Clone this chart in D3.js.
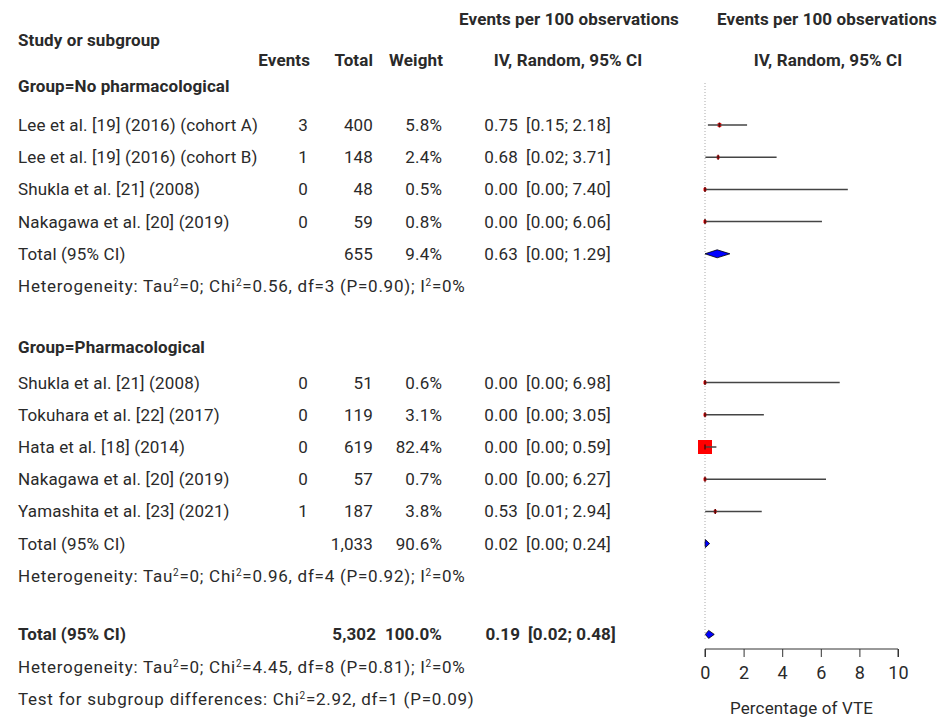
<!DOCTYPE html>
<html lang="en">
<head>
<meta charset="UTF-8">
<title>Forest plot - VTE</title>
<script src="https://d3js.org/d3.v7.min.js"></script>
<style>
  body { margin: 0; background: #fff; }
  svg text { font-family: Roboto, "Noto Sans", sans-serif; font-size: 17px; letter-spacing: 0.15px; fill: #2a2a2a; }
  .bold { font-weight: bold; letter-spacing: 0.1px; }
  .het { letter-spacing: 0.75px; }
</style>
</head>
<body>
<svg width="941" height="718"></svg>
<script>
// study rows
const studies = [
  "Lee et al. [19] (2016) (cohort A)", "Lee et al. [19] (2016) (cohort B)",
  "Shukla et al. [21] (2008)", "Nakagawa et al. [20] (2019)",
  "Shukla et al. [21] (2008)", "Tokuhara et al. [22] (2017)", "Hata et al. [18] (2014)",
  "Nakagawa et al. [20] (2019)", "Yamashita et al. [23] (2021)"
];
const studyRow = [0, 1, 2, 3, 8, 9, 10, 11, 12];
const events = [3, 1, 0, 0, 0, 0, 0, 0, 1];
const totals = [400, 148, 48, 59, 51, 119, 619, 57, 187];
const weights = [5.8, 2.4, 0.5, 0.8, 0.6, 3.1, 82.4, 0.7, 3.8];
const est = [0.75, 0.68, 0.00, 0.00, 0.00, 0.00, 0.00, 0.00, 0.53];
const lower = [0.15, 0.02, 0.00, 0.00, 0.00, 0.00, 0.00, 0.00, 0.01];
const upper = [2.18, 3.71, 7.40, 6.06, 6.98, 3.05, 0.59, 6.27, 2.94];

// subgroup headers
const groupLabels = ["Group=No pharmacological", "Group=Pharmacological"];
const groupRow = [-1.2, 6.9];

// pooled rows (two subgroups + overall)
const pooledRow = [4, 13, 15.82];
const pooledTotal = ["655", "1,033", "5,302"];
const pooledWeight = ["9.4%", "90.6%", "100.0%"];
const pooledEst = [0.63, 0.02, 0.19];
const pooledLower = [0.00, 0.00, 0.02];
const pooledUpper = [1.29, 0.24, 0.48];

// heterogeneity / test lines: [text, superscript] parts
const hetRow = [5, 14, 16.82, 17.82];
const hetText = [
  [["Heterogeneity: Tau", ""], ["2", "sup"], ["=0; Chi", ""], ["2", "sup"], ["=0.56, df=3 (P=0.90); I", ""], ["2", "sup"], ["=0%", ""]],
  [["Heterogeneity: Tau", ""], ["2", "sup"], ["=0; Chi", ""], ["2", "sup"], ["=0.96, df=4 (P=0.92); I", ""], ["2", "sup"], ["=0%", ""]],
  [["Heterogeneity: Tau", ""], ["2", "sup"], ["=0; Chi", ""], ["2", "sup"], ["=4.45, df=8 (P=0.81); I", ""], ["2", "sup"], ["=0%", ""]],
  [["Test for subgroup differences: Chi", ""], ["2", "sup"], ["=2.92, df=1 (P=0.09)", ""]]
];

const xTicks = [0, 2, 4, 6, 8, 10];

const svg = d3.select("svg");
const f2 = d3.format(".2f");

const y = d3.scaleLinear().domain([0, 1]).range([125, 157.2]);
const x = d3.scaleLinear().domain([0, 10]).range([705, 898]);
const sq = d3.scaleSqrt().domain([0, 82.4]).range([0, 14]);

const col = { label: 18, events: 308, total: 373, weight: 442, est: 518, ci: 526 };

function txt(xp, yp, s, anchor, cls) {
  return svg.append("text")
    .attr("x", xp).attr("y", yp).attr("dy", "0.35em")
    .attr("text-anchor", anchor || "start")
    .attr("class", cls || null)
    .text(s);
}

// headers
txt(col.label, 40, "Study or subgroup", "start", "bold");
txt(col.events + 2, 60, "Events", "end", "bold");
txt(col.total, 60, "Total", "end", "bold");
txt(col.weight + 1, 60, "Weight", "end", "bold");
txt(569, 19, "Events per 100 observations", "middle", "bold");
txt(568, 60, "IV, Random, 95% CI", "middle", "bold");
txt(827, 19, "Events per 100 observations", "middle", "bold");
txt(828, 60, "IV, Random, 95% CI", "middle", "bold");

groupLabels.forEach((g, i) => txt(col.label, y(groupRow[i]), g, "start", "bold"));

// reference line at 0
svg.append("line")
  .attr("x1", x(0)).attr("x2", x(0))
  .attr("y1", 83).attr("y2", y(15.82) + 6)
  .attr("stroke", "#aaa").attr("stroke-width", 1)
  .attr("stroke-dasharray", "1,2");

// study rows
studies.forEach((s, i) => {
  const yy = y(studyRow[i]);
  txt(col.label, yy, s);
  txt(col.events, yy, events[i], "end");
  txt(col.total, yy, totals[i], "end");
  txt(col.weight, yy, weights[i].toFixed(1) + "%", "end");
  txt(col.est, yy, f2(est[i]), "end");
  txt(col.ci, yy, "[" + f2(lower[i]) + "; " + f2(upper[i]) + "]");

  const side = Math.max(sq(weights[i]), 3);
  svg.append("rect")
    .attr("x", x(est[i]) - side / 2).attr("y", yy - side / 2)
    .attr("width", side).attr("height", side)
    .attr("fill", "red");
  svg.append("line")
    .attr("x1", x(lower[i])).attr("x2", x(upper[i]))
    .attr("y1", yy).attr("y2", yy)
    .attr("stroke", "#444").attr("stroke-width", 1.5);
  svg.append("line")
    .attr("x1", x(est[i])).attr("x2", x(est[i]))
    .attr("y1", yy - 2.5).attr("y2", yy + 2.5)
    .attr("stroke", "#600").attr("stroke-width", 1.5);
});

// pooled rows
pooledRow.forEach((r, i) => {
  const yy = y(r);
  const cls = i === 2 ? "bold" : null;
  txt(col.label, yy, "Total (95% CI)", "start", cls);
  txt(col.total + 3 * (i === 2), yy, pooledTotal[i], "end", cls);
  txt(col.weight, yy, pooledWeight[i], "end", cls);
  txt(col.est + 2 * (i === 2), yy, f2(pooledEst[i]), "end", cls);
  txt(col.ci + 2 * (i === 2), yy, "[" + f2(pooledLower[i]) + "; " + f2(pooledUpper[i]) + "]", "start", cls);
  const h = 4;
  const pts = [[x(pooledLower[i]), yy], [x(pooledEst[i]), yy - h], [x(pooledUpper[i]), yy], [x(pooledEst[i]), yy + h]];
  svg.append("path")
    .attr("d", d3.line()(pts) + "Z")
    .attr("fill", "blue").attr("stroke", "#000").attr("stroke-width", 0.8);
});

// heterogeneity lines
hetRow.forEach((r, i) => {
  const t = svg.append("text").attr("class", "het")
    .attr("x", col.label).attr("y", y(r)).attr("dy", "0.35em");
  hetText[i].forEach(p => {
    const sp = t.append("tspan").text(p[0]);
    if (p[1] === "sup") {
      sp.attr("baseline-shift", "6px").style("font-size", "10px");
    }
  });
});

// axis
const axis = svg.append("g")
  .attr("transform", `translate(0,${649})`)
  .call(d3.axisBottom(x).tickValues(xTicks).tickSize(8).tickPadding(9));
axis.select(".domain").attr("stroke", "#333").attr("d", `M${x(0)},8V0H${x(10)}V8`);
axis.selectAll(".tick line").attr("stroke", "#333");
axis.selectAll(".tick text")
  .style("font-size", "18px").style("font-family", "Roboto, sans-serif")
  .attr("fill", "#2a2a2a");

txt(x(5), 708, "Percentage of VTE", "middle");
</script>
</body>
</html>
